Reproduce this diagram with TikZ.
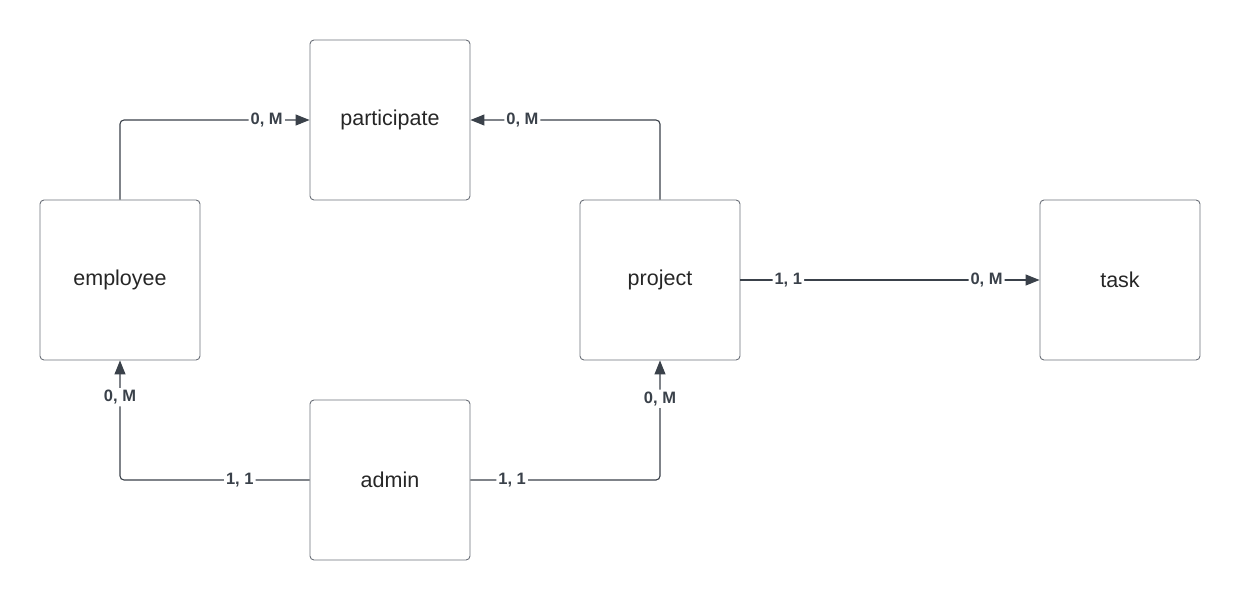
\documentclass[tikz,border=0pt]{standalone}
\usepackage{fontspec}
\setmainfont{Liberation Sans}
\usetikzlibrary{arrows.meta}
\definecolor{linec}{HTML}{3A414A}
\definecolor{boxc}{HTML}{6B7079}
\begin{document}
\begin{tikzpicture}[x=1pt,y=-1pt,
  entity/.style={draw=boxc,line width=0.9pt,rounded corners=4pt,minimum width=160pt,minimum height=160pt,inner sep=0pt,font=\fontsize{21.5}{25}\selectfont,text=black!85},
  conn/.style={draw=linec,line width=1.1pt,rounded corners=4pt},
  arr/.style={-{Triangle[length=14pt,width=11pt]}},
  card/.style={fill=white,inner sep=2pt,font=\fontsize{16.5}{19}\selectfont\bfseries,text=linec}]
\useasboundingbox (0,0) rectangle (1240,600);
\node[entity] (participate) at (390,120) {participate};
\node[entity] (employee) at (120,280) {employee};
\node[entity] (project) at (660,280) {project};
\node[entity] (task) at (1120,280) {task};
\node[entity] (admin) at (390,480) {admin};
\draw[conn,arr] (employee.north) |- node[card,pos=0.887] {0, M} (participate.west);
\draw[conn,arr] (project.north) |- node[card,pos=0.863] {0, M} (participate.east);
\draw[conn,arr] (project.east) -- node[card,pos=0.16] {1, 1} node[card,pos=0.823] {0, M} (task.west);
\draw[conn,arr] (admin.west) -| node[card,pos=0.184] {1, 1} node[card,pos=0.846] {0, M} (employee.south);
\draw[conn,arr] (admin.east) -| node[card,pos=0.11] {1, 1} node[card,pos=0.84] {0, M} (project.south);
\end{tikzpicture}
\end{document}
